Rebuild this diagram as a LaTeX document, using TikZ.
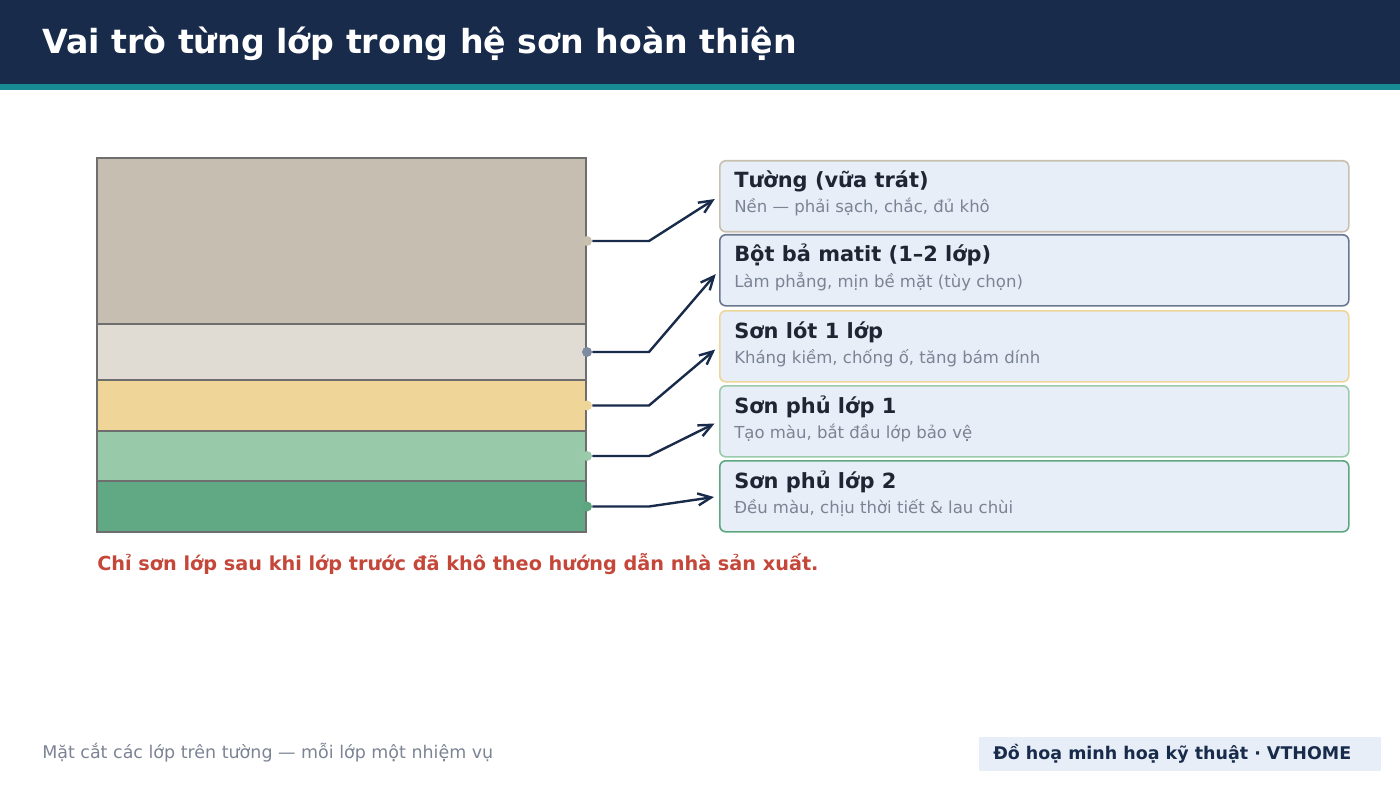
\documentclass[tikz,border=0pt]{standalone}
\usepackage{fontspec}
\setmainfont{DejaVu Sans}
\usetikzlibrary{arrows.meta}

\definecolor{topnavy}{HTML}{182B4B}
\definecolor{stripeteal}{HTML}{178A93}
\definecolor{edgegray}{HTML}{6E6E6E}
\definecolor{plaster}{HTML}{C7BEB2}
\definecolor{putty}{HTML}{E0DCD3}
\definecolor{primer}{HTML}{EFD597}
\definecolor{coatone}{HTML}{98C9A8}
\definecolor{coattwo}{HTML}{61A884}
\definecolor{cardfill}{HTML}{E7EEF7}
\definecolor{plasteredge}{HTML}{C9C0B0}
\definecolor{puttyedge}{HTML}{6A7791}
\definecolor{primeredge}{HTML}{EED69A}
\definecolor{coatoneedge}{HTML}{9BCBAA}
\definecolor{coattwoedge}{HTML}{5EA680}
\definecolor{headdark}{HTML}{1F2633}
\definecolor{subgray}{HTML}{7B8494}
\definecolor{warnred}{HTML}{C4473A}

\begin{document}
\begin{tikzpicture}[x=0.75pt, y=-0.75pt,
    layer/.style={draw=edgegray, line width=1.5pt, fill=#1},
    card/.style={draw=#1, line width=1.2pt, fill=cardfill, rounded corners=4.5pt, anchor=north west,
      minimum width=471.75pt, minimum height=53.25pt, inner sep=0pt},
    pin/.style={circle, fill=#1, inner sep=0pt, minimum size=7.5pt},
    link/.style={line width=1.8pt, draw=topnavy, -{Straight Barb[length=10pt,width=9pt]}, shorten >=3.75pt},
    head/.style={anchor=base west, inner sep=0pt, text=headdark, font=\fontsize{15.7}{18}\selectfont\bfseries},
    note/.style={anchor=base west, inner sep=0pt, text=subgray, font=\fontsize{12.4}{14}\selectfont}]

    \useasboundingbox (0,0) rectangle (1400,788);

    % header band
    \fill[topnavy] (0,0) rectangle (1400,84);
    \fill[stripeteal] (0,84) rectangle (1400,90);
    \node[anchor=base west, inner sep=0pt, text=white, font=\fontsize{24.9}{28}\selectfont\bfseries] (title) at (42,54) {Vai trò từng lớp trong hệ sơn hoàn thiện};

    % cross-section of the wall
    \draw[layer=plaster] (97,158) rectangle (586,324);
    \draw[layer=putty] (97,324) rectangle (586,380);
    \draw[layer=primer] (97,380) rectangle (586,431);
    \draw[layer=coatone] (97,431) rectangle (586,481);
    \draw[layer=coattwo] (97,481) rectangle (586,532);

    % cards
    \node[card=plasteredge] (b1) at (719,160) {};
    \node[card=puttyedge] (b2) at (719,234) {};
    \node[card=primeredge] (b3) at (719,310) {};
    \node[card=coatoneedge] (b4) at (719,385) {};
    \node[card=coattwoedge] (b5) at (719,460) {};

    \node[head] (h1) at (734,188) {Tường (vữa trát)};
    \node[note] (n1) at (734,213) {Nền — phải sạch, chắc, đủ khô};
    \node[head] (h2) at (734,262) {Bột bả matit (1–2 lớp)};
    \node[note] (n2) at (734,287) {Làm phẳng, mịn bề mặt (tùy chọn)};
    \node[head] (h3) at (734,338) {Sơn lót 1 lớp};
    \node[note] (n3) at (734,363) {Kháng kiềm, chống ố, tăng bám dính};
    \node[head] (h4) at (734,413) {Sơn phủ lớp 1};
    \node[note] (n4) at (734,438) {Tạo màu, bắt đầu lớp bảo vệ};
    \node[head] (h5) at (734,488) {Sơn phủ lớp 2};
    \node[note] (n5) at (734,513) {Đều màu, chịu thời tiết \& lau chùi};

    % pins and leaders
    \node[pin=plasteredge] (d1) at (587,241) {};
    \node[pin=puttyedge!85] (d2) at (587,352) {};
    \node[pin=primeredge] (d3) at (587,405.5) {};
    \node[pin=coatoneedge] (d4) at (587,456) {};
    \node[pin=coattwoedge] (d5) at (587,506.5) {};

    \draw[link] (d1) -- (649,241) -- (b1.west);
    \draw[link] (d2) -- (649,352) -- (b2.west);
    \draw[link] (d3) -- (649,405.5) -- (b3.west);
    \draw[link] (d4) -- (649,456) -- (b4.west);
    \draw[link] (d5) -- (649,506.5) -- (b5.west);

    \node[anchor=base west, inner sep=0pt, text=warnred, font=\fontsize{14.45}{17}\selectfont\bfseries] (warn) at (97,570) {Chỉ sơn lớp sau khi lớp trước đã khô theo hướng dẫn nhà sản xuất.};

    % footer
    \node[anchor=base west, inner sep=0pt, text=subgray, font=\fontsize{13.1}{15}\selectfont] (caption) at (42,758) {Mặt cắt các lớp trên tường — mỗi lớp một nhiệm vụ};
    \node[fill=cardfill, anchor=north west, inner sep=0pt, minimum width=301.5pt, minimum height=25.5pt] (badge) at (979,737) {};
    \node[anchor=base west, inner sep=0pt, text=topnavy, font=\fontsize{13.1}{15}\selectfont\bfseries] (credit) at (993,759) {Đồ hoạ minh hoạ kỹ thuật · VTHOME};
\end{tikzpicture}
\end{document}
